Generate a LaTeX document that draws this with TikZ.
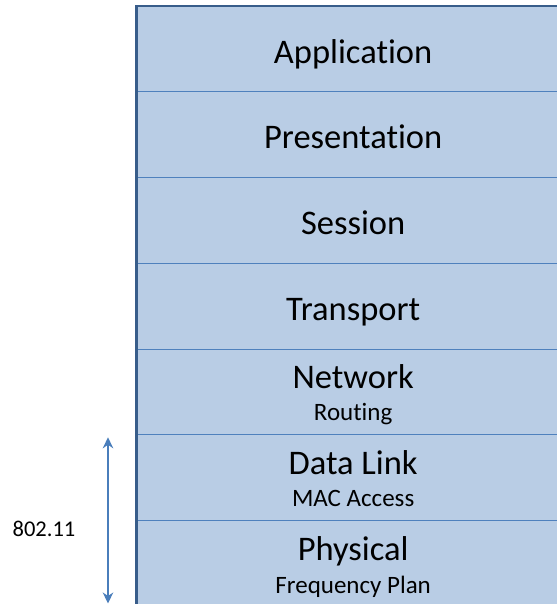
\documentclass[tikz,border=0pt]{standalone}
\usepackage{fontspec}
\setmainfont{Carlito}[Ligatures=NoCommon]
\usetikzlibrary{positioning,arrows.meta}
\definecolor{layerfill}{HTML}{B9CDE5}
\definecolor{layerline}{HTML}{4F81BD}
\definecolor{frameline}{HTML}{385D8A}
\definecolor{spanline}{HTML}{4A7EBB}
\tikzset{
  layer/.style={rectangle, fill=layerfill, minimum width=433.7pt,
    minimum height=85.75pt, inner sep=0pt, outer sep=0pt},
  layer sep/.style={draw=layerline, line width=1pt},
  outer frame/.style={draw=frameline, line width=2.5pt},
  title text/.style={anchor=base, inner sep=0pt, font=\fontsize{34.5}{41}\selectfont},
  sub text/.style={anchor=base, inner sep=0pt, font=\fontsize{25}{30}\selectfont},
  span arrow/.style={draw=spanline, line width=1.3pt,
    {Stealth[length=11pt,width=10.5pt,inset=3.5pt]}-{Stealth[length=11pt,width=10.5pt,inset=3.5pt]}},
}
\begin{document}
\begin{tikzpicture}[x=1pt,y=-1pt]
  \useasboundingbox (0,0) rectangle (556,604);

  % Drawing the layers
  \node[layer] (app) at (353.15,49.07) {};
  \node[layer, below=0pt of app] (pres) {};
  \node[layer, below=0pt of pres] (ses) {};
  \node[layer, below=0pt of ses] (trans) {};
  \node[layer, below=0pt of trans] (net) {};
  \node[layer, below=0pt of net] (dl) {};
  \node[layer, below=0pt of dl] (phy) {};

  % Drawing the separators
  \foreach \l in {app,pres,ses,trans,net,dl}
    \draw[layer sep] (\l.south west) -- (\l.south east);

  % Drawing the outer frame
  \draw[outer frame] (phy.south west) -- (app.north west) -- (app.north east);

  % Marking the layer names
  \node[title text] (appT) at ([yshift=-57pt]app.north) {Application};
  \node[title text] (presT) at ([yshift=-57pt]pres.north) {Presentation};
  \node[title text] (sesT) at ([yshift=-57pt]ses.north) {Session};
  \node[title text] (transT) at ([yshift=-57pt]trans.north) {Transport};
  \node[title text] (netT) at ([yshift=-39.5pt]net.north) {Network};
  \node[sub text] (netS) at ([yshift=-71pt]net.north) {Routing};
  \node[title text] (dlT) at ([yshift=-40pt]dl.north) {Data Link};
  \node[sub text] (dlS) at ([yshift=-71.5pt]dl.north) {MAC Access};
  \node[title text] (phyT) at ([yshift=-40pt]phy.north) {Physical};
  \node[sub text] (phyS) at ([yshift=-73pt]phy.north) {Frequency Plan};

  % Marking the 802.11 span
  \coordinate (spantop) at (108,437.3);
  \coordinate (spanbot) at (108,603.5);
  \draw[span arrow] (spantop) -- (spanbot);
  \node[anchor=base, inner sep=0pt, font=\fontsize{22.5}{27}\selectfont] (std) at (44,536.3) {802.11};
\end{tikzpicture}
\end{document}
